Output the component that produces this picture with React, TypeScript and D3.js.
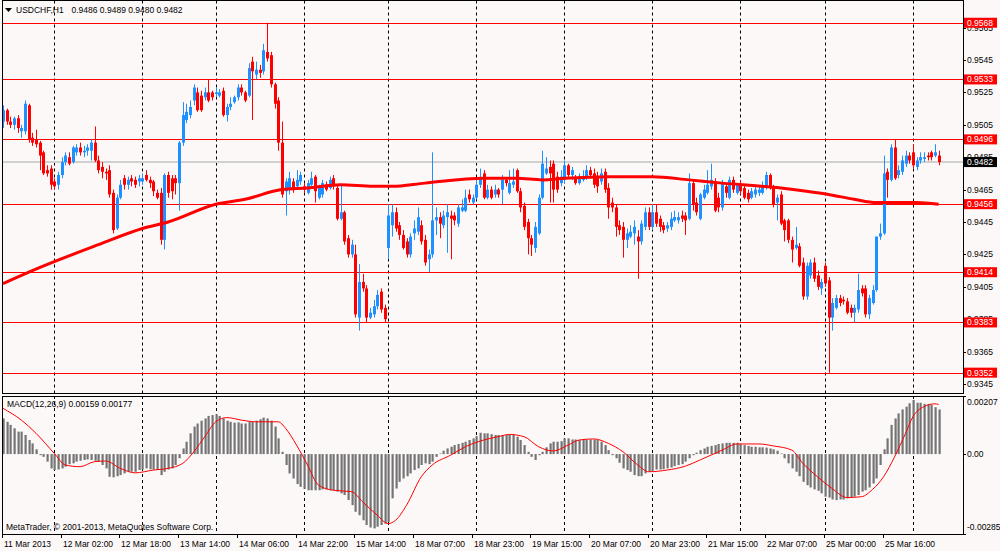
import React from 'react';
import * as d3 from 'd3';

// ---------- DATA (USDCHF, H1) ----------
const OPEN = [
0.9507,0.9514,0.9507,0.9505,0.9509,0.9501,0.9501,0.9517,0.9497,0.9496,0.9494,0.9488,0.9477,0.9478,0.9470,0.9468,
0.9474,0.9482,0.9485,0.9482,0.9488,0.9491,0.9488,0.9489,0.9489,0.9494,0.9483,0.9479,0.9476,0.9477,0.9463,0.9441,
0.9460,0.9472,0.9468,0.9472,0.9471,0.9470,0.9470,0.9474,0.9471,0.9470,0.9463,0.9463,0.9434,0.9474,0.9472,0.9472,
0.9469,0.9494,0.9508,0.9511,0.9520,0.9525,0.9523,0.9522,0.9525,0.9525,0.9524,0.9523,0.9526,0.9511,0.9516,0.9519,
0.9522,0.9528,0.9525,0.9523,0.9544,0.9536,0.9539,0.9538,0.9550,0.9548,0.9530,0.9520,0.9494,0.9464,0.9465,0.9470,
0.9467,0.9470,0.9467,0.9463,0.9468,0.9473,0.9460,0.9462,0.9468,0.9466,0.9472,0.9466,0.9447,0.9451,0.9435,0.9425,
0.9425,0.9386,0.9408,0.9404,0.9386,0.9388,0.9393,0.9402,0.9392,0.9429,0.9443,0.9451,0.9443,0.9437,0.9433,0.9425,
0.9438,0.9439,0.9443,0.9434,0.9422,0.9425,0.9446,0.9448,0.9443,0.9448,0.9449,0.9449,0.9444,0.9452,0.9452,0.9462,
0.9457,0.9460,0.9468,0.9475,0.9460,0.9465,0.9462,0.9465,0.9465,0.9471,0.9463,0.9468,0.9477,0.9464,0.9455,0.9445,
0.9435,0.9429,0.9438,0.9460,0.9475,0.9479,0.9481,0.9473,0.9469,0.9471,0.9480,0.9474,0.9472,0.9469,0.9471,0.9473,
0.9477,0.9475,0.9473,0.9470,0.9476,0.9466,0.9457,0.9454,0.9443,0.9442,0.9434,0.9436,0.9438,0.9436,0.9433,0.9442,
0.9451,0.9442,0.9451,0.9447,0.9443,0.9441,0.9442,0.9446,0.9446,0.9449,0.9449,0.9447,0.9469,0.9457,0.9447,0.9460,
0.9463,0.9467,0.9469,0.9460,0.9454,0.9467,0.9460,0.9471,0.9463,0.9468,0.9466,0.9463,0.9460,0.9462,0.9463,0.9463,
0.9466,0.9474,0.9466,0.9457,0.9462,0.9446,0.9446,0.9434,0.9429,0.9430,0.9420,0.9399,0.9412,0.9420,0.9412,0.9404,
0.9418,0.9409,0.9386,0.9392,0.9398,0.9397,0.9396,0.9392,0.9389,0.9391,0.9404,0.9404,0.9388,0.9395,0.9403,0.9436,
0.9438,0.9476,0.9471,0.9491,0.9474,0.9476,0.9481,0.9486,0.9488,0.9479,0.9483,0.9484,0.9486,0.9488,0.9486,0.9486,
];
const HIGH = [
0.9517,0.9515,0.9510,0.9510,0.9511,0.9505,0.9520,0.9518,0.9500,0.9502,0.9495,0.9489,0.9480,0.9480,0.9472,0.9476,
0.9485,0.9488,0.9488,0.9492,0.9493,0.9494,0.9492,0.9493,0.9496,0.9504,0.9486,0.9482,0.9478,0.9480,0.9465,0.9462,
0.9471,0.9474,0.9473,0.9474,0.9473,0.9474,0.9475,0.9477,0.9473,0.9471,0.9465,0.9466,0.9475,0.9476,0.9474,0.9474,
0.9495,0.9519,0.9518,0.9520,0.9530,0.9528,0.9526,0.9528,0.9533,0.9526,0.9528,0.9527,0.9528,0.9518,0.9522,0.9523,
0.9530,0.9530,0.9526,0.9543,0.9547,0.9544,0.9542,0.9555,0.9568,0.9550,0.9531,0.9522,0.9507,0.9472,0.9476,0.9472,
0.9477,0.9476,0.9469,0.9471,0.9476,0.9474,0.9468,0.9471,0.9470,0.9473,0.9474,0.9468,0.9468,0.9452,0.9437,0.9434,
0.9431,0.9419,0.9413,0.9406,0.9392,0.9397,0.9403,0.9404,0.9394,0.9456,0.9456,0.9454,0.9445,0.9440,0.9435,0.9438,
0.9446,0.9454,0.9446,0.9437,0.9428,0.9488,0.9454,0.9451,0.9452,0.9456,0.9452,0.9451,0.9456,0.9459,0.9465,0.9465,
0.9462,0.9471,0.9478,0.9477,0.9468,0.9467,0.9468,0.9466,0.9474,0.9472,0.9477,0.9478,0.9478,0.9466,0.9457,0.9447,
0.9437,0.9445,0.9462,0.9489,0.9485,0.9483,0.9483,0.9476,0.9477,0.9483,0.9481,0.9479,0.9474,0.9475,0.9477,0.9480,
0.9479,0.9478,0.9476,0.9478,0.9478,0.9469,0.9460,0.9456,0.9446,0.9445,0.9441,0.9443,0.9446,0.9440,0.9446,0.9454,
0.9454,0.9456,0.9456,0.9449,0.9445,0.9445,0.9451,0.9452,0.9451,0.9452,0.9451,0.9475,0.9471,0.9460,0.9463,0.9468,
0.9477,0.9481,0.9472,0.9463,0.9471,0.9469,0.9473,0.9473,0.9469,0.9471,0.9468,0.9465,0.9466,0.9468,0.9467,0.9470,
0.9476,0.9475,0.9468,0.9462,0.9464,0.9447,0.9447,0.9436,0.9442,0.9432,0.9423,0.9420,0.9422,0.9423,0.9415,0.9410,
0.9420,0.9411,0.9398,0.9400,0.9400,0.9399,0.9398,0.9394,0.9394,0.9413,0.9406,0.9406,0.9400,0.9406,0.9436,0.9444,
0.9486,0.9478,0.9493,0.9496,0.9480,0.9486,0.9489,0.9488,0.9493,0.9485,0.9488,0.9488,0.9488,0.9489,0.9493,0.9489,
];
const LOW = [
0.9503,0.9505,0.9503,0.9502,0.9500,0.9497,0.9499,0.9494,0.9492,0.9491,0.9477,0.9474,0.9473,0.9465,0.9465,0.9465,
0.9472,0.9480,0.9480,0.9481,0.9486,0.9486,0.9485,0.9486,0.9483,0.9482,0.9475,0.9472,0.9471,0.9460,0.9438,0.9440,
0.9459,0.9465,0.9465,0.9467,0.9466,0.9467,0.9468,0.9470,0.9466,0.9461,0.9459,0.9431,0.9428,0.9460,0.9459,0.9462,
0.9452,0.9492,0.9506,0.9509,0.9517,0.9513,0.9513,0.9520,0.9519,0.9520,0.9522,0.9522,0.9510,0.9507,0.9514,0.9518,
0.9520,0.9523,0.9519,0.9522,0.9508,0.9533,0.9534,0.9536,0.9544,0.9528,0.9515,0.9489,0.9460,0.9449,0.9462,0.9463,
0.9465,0.9468,0.9463,0.9462,0.9467,0.9457,0.9459,0.9460,0.9464,0.9465,0.9465,0.9446,0.9446,0.9431,0.9423,0.9423,
0.9386,0.9378,0.9402,0.9383,0.9385,0.9386,0.9391,0.9389,0.9383,0.9422,0.9436,0.9439,0.9434,0.9428,0.9423,0.9423,
0.9434,0.9437,0.9431,0.9418,0.9414,0.9423,0.9437,0.9435,0.9441,0.9426,0.9422,0.9443,0.9442,0.9451,0.9451,0.9457,
0.9456,0.9459,0.9466,0.9459,0.9459,0.9459,0.9460,0.9460,0.9456,0.9467,0.9462,0.9466,0.9463,0.9451,0.9440,0.9425,
0.9424,0.9426,0.9437,0.9459,0.9474,0.9457,0.9457,0.9463,0.9467,0.9469,0.9472,0.9471,0.9468,0.9468,0.9470,0.9471,
0.9472,0.9466,0.9463,0.9468,0.9463,0.9447,0.9451,0.9436,0.9437,0.9423,0.9429,0.9435,0.9431,0.9410,0.9431,0.9440,
0.9440,0.9440,0.9442,0.9439,0.9438,0.9439,0.9440,0.9445,0.9444,0.9445,0.9437,0.9446,0.9452,0.9449,0.9446,0.9459,
0.9462,0.9465,0.9451,0.9451,0.9452,0.9460,0.9459,0.9463,0.9462,0.9462,0.9459,0.9457,0.9459,0.9460,0.9461,0.9462,
0.9465,0.9465,0.9454,0.9446,0.9443,0.9433,0.9432,0.9420,0.9428,0.9417,0.9397,0.9397,0.9410,0.9408,0.9403,0.9400,
0.9405,0.9352,0.9378,0.9391,0.9393,0.9394,0.9388,0.9386,0.9383,0.9389,0.9399,0.9386,0.9385,0.9394,0.9402,0.9434,
0.9437,0.9460,0.9470,0.9471,0.9472,0.9474,0.9479,0.9481,0.9478,0.9477,0.9481,0.9482,0.9483,0.9483,0.9485,0.9480,
];
const CLOSE = [
0.9514,0.9507,0.9505,0.9509,0.9503,0.9503,0.9518,0.9496,0.9494,0.9493,0.9486,0.9475,0.9475,0.9468,0.9467,0.9474,
0.9482,0.9486,0.9481,0.9491,0.9491,0.9488,0.9489,0.9491,0.9494,0.9483,0.9477,0.9476,0.9475,0.9462,0.9440,0.9460,
0.9468,0.9468,0.9471,0.9470,0.9468,0.9472,0.9472,0.9471,0.9469,0.9464,0.9460,0.9434,0.9474,0.9463,0.9464,0.9469,
0.9494,0.9511,0.9513,0.9516,0.9528,0.9514,0.9514,0.9525,0.9520,0.9522,0.9525,0.9525,0.9511,0.9516,0.9518,0.9522,
0.9528,0.9525,0.9520,0.9540,0.9538,0.9539,0.9537,0.9551,0.9546,0.9530,0.9518,0.9494,0.9462,0.9470,0.9472,0.9465,
0.9471,0.9474,0.9465,0.9469,0.9472,0.9464,0.9466,0.9469,0.9465,0.9471,0.9467,0.9447,0.9451,0.9433,0.9425,0.9431,
0.9388,0.9408,0.9404,0.9386,0.9389,0.9393,0.9400,0.9391,0.9385,0.9449,0.9451,0.9441,0.9437,0.9429,0.9425,0.9436,
0.9441,0.9448,0.9433,0.9420,0.9425,0.9446,0.9448,0.9444,0.9449,0.9451,0.9447,0.9446,0.9454,0.9454,0.9460,0.9459,
0.9460,0.9468,0.9472,0.9460,0.9465,0.9460,0.9465,0.9462,0.9471,0.9469,0.9469,0.9470,0.9464,0.9454,0.9442,0.9435,
0.9431,0.9442,0.9460,0.9481,0.9478,0.9475,0.9465,0.9465,0.9473,0.9480,0.9474,0.9477,0.9469,0.9473,0.9473,0.9477,
0.9474,0.9468,0.9467,0.9475,0.9465,0.9454,0.9454,0.9442,0.9440,0.9434,0.9438,0.9439,0.9442,0.9433,0.9444,0.9451,
0.9442,0.9451,0.9444,0.9442,0.9440,0.9443,0.9447,0.9448,0.9448,0.9447,0.9446,0.9469,0.9456,0.9451,0.9462,0.9465,
0.9468,0.9471,0.9452,0.9454,0.9469,0.9463,0.9471,0.9465,0.9469,0.9464,0.9460,0.9459,0.9464,0.9465,0.9465,0.9467,
0.9474,0.9466,0.9456,0.9460,0.9444,0.9440,0.9434,0.9428,0.9431,0.9418,0.9399,0.9418,0.9420,0.9410,0.9405,0.9408,
0.9407,0.9386,0.9395,0.9398,0.9395,0.9396,0.9389,0.9389,0.9392,0.9403,0.9401,0.9388,0.9398,0.9403,0.9436,0.9438,
0.9475,0.9471,0.9491,0.9472,0.9477,0.9483,0.9486,0.9483,0.9480,0.9483,0.9485,0.9485,0.9485,0.9485,0.9488,0.9482,
];

// moving average (red thick line), read at sample bars
const MA_IDX = [0, 8, 26, 38, 45, 58, 66, 76, 83, 92, 101, 106, 115, 131, 140, 147, 153, 165, 177, 187, 196, 212, 219, 225, 232, 238, 249, 255];
const MA_VAL = [0.9407, 0.9415, 0.9431, 0.9441, 0.9445, 0.9456, 0.9459, 0.9465, 0.9466, 0.9468, 0.9467, 0.9467, 0.9469, 0.9472, 0.9472, 0.9471, 0.9472, 0.9473, 0.9473, 0.9471, 0.9469, 0.9466, 0.9464, 0.9462, 0.9459, 0.9457, 0.9457, 0.9456];

// MACD(12,26,9) histogram (main line), one per bar
const MACD_MAIN = [
0.00127,0.00115,0.00104,0.00092,0.00080,0.00080,0.00068,0.00050,0.00038,0.00017,-0.00004,-0.00010,-0.00027,-0.00051,-0.00057,-0.00055,
-0.00051,-0.00045,-0.00036,-0.00033,-0.00027,-0.00024,-0.00021,-0.00019,-0.00021,-0.00024,-0.00027,-0.00039,-0.00051,-0.00081,-0.00083,-0.00079,
-0.00075,-0.00069,-0.00063,-0.00063,-0.00063,-0.00057,-0.00055,-0.00051,-0.00054,-0.00055,-0.00057,-0.00075,-0.00063,-0.00055,-0.00051,-0.00039,
-0.00015,0.00020,0.00044,0.00074,0.00098,0.00109,0.00119,0.00127,0.00136,0.00139,0.00142,0.00136,0.00127,0.00119,0.00115,0.00112,
0.00113,0.00109,0.00109,0.00115,0.00115,0.00119,0.00124,0.00130,0.00127,0.00119,0.00098,0.00056,0.00008,-0.00039,-0.00069,-0.00087,
-0.00107,-0.00117,-0.00124,-0.00129,-0.00129,-0.00129,-0.00129,-0.00126,-0.00126,-0.00129,-0.00129,-0.00134,-0.00140,-0.00146,-0.00164,-0.00182,
-0.00206,-0.00218,-0.00236,-0.00253,-0.00262,-0.00265,-0.00259,-0.00253,-0.00248,-0.00242,-0.00158,-0.00123,-0.00099,-0.00087,-0.00079,-0.00069,
-0.00057,-0.00051,-0.00039,-0.00033,-0.00036,-0.00027,-0.00010,0.00002,0.00012,0.00020,0.00026,0.00032,0.00036,0.00040,0.00044,0.00050,
0.00056,0.00064,0.00076,0.00074,0.00074,0.00071,0.00068,0.00068,0.00068,0.00068,0.00068,0.00068,0.00062,0.00050,0.00032,0.00008,
-0.00010,-0.00021,-0.00004,0.00008,0.00024,0.00038,0.00044,0.00044,0.00046,0.00056,0.00056,0.00052,0.00052,0.00050,0.00052,0.00052,
0.00052,0.00052,0.00050,0.00044,0.00032,0.00014,-0.00004,-0.00015,-0.00031,-0.00051,-0.00057,-0.00063,-0.00075,-0.00079,-0.00079,-0.00069,
-0.00063,-0.00060,-0.00055,-0.00055,-0.00054,-0.00051,-0.00048,-0.00043,-0.00039,-0.00036,-0.00027,-0.00015,-0.00004,0.00005,0.00014,0.00020,
0.00026,0.00029,0.00032,0.00036,0.00038,0.00040,0.00040,0.00040,0.00040,0.00036,0.00032,0.00029,0.00026,0.00026,0.00024,0.00024,
0.00023,0.00020,0.00017,0.00012,0.00002,-0.00015,-0.00033,-0.00051,-0.00063,-0.00079,-0.00099,-0.00111,-0.00119,-0.00126,-0.00131,-0.00140,
-0.00152,-0.00155,-0.00162,-0.00164,-0.00162,-0.00162,-0.00158,-0.00155,-0.00152,-0.00146,-0.00134,-0.00129,-0.00119,-0.00105,-0.00087,-0.00039,
0.00017,0.00056,0.00104,0.00127,0.00145,0.00159,0.00169,0.00181,0.00193,0.00183,0.00183,0.00179,0.00179,0.00175,0.00167,0.00159,
];

// MACD signal line, read at sample bars
const SIGNAL_IDX = [0, 5, 9, 14, 17, 21, 25, 28, 32, 36, 41, 45, 49, 52, 55, 58, 61, 65, 69, 75, 77, 80, 83, 86, 90, 95, 98, 102, 105, 107, 110, 114, 117, 122, 126, 131, 135, 138, 142, 146, 150, 154, 157, 161, 165, 169, 173, 176, 181, 186, 190, 196, 200, 206, 210, 215, 218, 222, 226, 230, 234, 237, 240, 243, 246, 248, 251, 254, 255];
const SIGNAL_VAL = [0.00163, 0.00121, 0.00074, 0.00002, -0.00039, -0.00045, -0.00027, -0.00025, -0.00051, -0.00067, -0.00057, -0.00051, -0.00033, 0.00008, 0.00062, 0.00115, 0.00130, 0.00121, 0.00115, 0.00115, 0.00092, 0.00032, -0.00039, -0.00111, -0.00129, -0.00134, -0.00170, -0.00218, -0.00248, -0.00236, -0.00182, -0.00081, -0.00039, -0.00004, 0.00026, 0.00050, 0.00062, 0.00070, 0.00062, 0.00026, 0.00011, 0.00032, 0.00050, 0.00054, 0.00038, 0.00008, -0.00039, -0.00063, -0.00057, -0.00043, -0.00021, 0.00014, 0.00036, 0.00036, 0.00029, 0.00014, -0.00033, -0.00081, -0.00123, -0.00155, -0.00152, -0.00126, -0.00081, -0.00010, 0.00074, 0.00133, 0.00169, 0.00179, 0.00177];

const PRICE_TICKS = [0.9565, 0.9545, 0.9525, 0.9505, 0.9485, 0.9465, 0.9445, 0.9425, 0.9405, 0.9385, 0.9365, 0.9345];
const LEVELS = [0.9568, 0.9533, 0.9496, 0.9456, 0.9414, 0.9383, 0.9352];
const BID = 0.9482;
const MACD_TICKS = [0.00207, 0, -0.00285];
const MACD_TICK_LABELS = ['0.00207', '0.00', '-0.00285'];
const TIME_IDX = [0, 16, 32, 48, 64, 80, 96, 112, 128, 144, 160, 176, 192, 208, 224, 240];
const TIME_LABELS = ['11 Mar 2013', '12 Mar 02:00', '12 Mar 18:00', '13 Mar 14:00', '14 Mar 06:00', '14 Mar 22:00', '15 Mar 14:00', '18 Mar 07:00', '18 Mar 23:00', '19 Mar 15:00', '20 Mar 07:00', '20 Mar 23:00', '21 Mar 15:00', '22 Mar 07:00', '25 Mar 00:00', '25 Mar 16:00'];
const DAY_IDX = [14, 38, 58, 82, 105, 129, 153, 177, 201, 224, 248];

const SYMBOL = 'USDCHF,H1';
const MACD_TITLE = 'MACD(12,26,9) 0.00159 0.00177';
const COPYRIGHT = 'MetaTrader, \u00A9 2001-2013, MetaQuotes Software Corp.';

export default function App() {
  const W = 1000, H = 551;
  const L = 2, R = 963;
  const mainTop = 0.5, mainBot = 393.5, macdTop = 396, macdBot = 534;
  const BG = '#FCF8F8';
  const BULL = '#1E90FF', BEAR = '#FF0000';
  const font = "'Liberation Sans', Arial, sans-serif";
  const fs = 8.5;

  const n = CLOSE.length;
  const x = d3.scaleLinear().domain([0, n - 1]).range([3, 3 + (n - 1) * 3.669]);
  const y = d3.scaleLinear().domain([0.9545, 0.9345]).range([60, 384]);
  const ym = d3.scaleLinear().domain([0.00207, -0.00285]).range([macdTop, macdBot]);

  const maLine = d3.line<number>().x((d, i) => x(MA_IDX[i])).y((d) => y(d)).curve(d3.curveMonotoneX);
  const sigLine = d3.line<number>().x((d, i) => x(SIGNAL_IDX[i])).y((d) => ym(d)).curve(d3.curveMonotoneX);

  const fmt = d3.format('.4f');
  const lastO = OPEN[n - 1], lastH = HIGH[n - 1], lastL = LOW[n - 1], lastC = CLOSE[n - 1];
  const header = `${fmt(lastO)} ${fmt(lastH)} ${fmt(lastL)} ${fmt(lastC)}`;

  const macdLabelY = (v: number) => Math.min(Math.max(ym(v), macdTop + 6), macdBot - 6.5);

  return (
    <svg width={W} height={H} style={{ position: 'absolute', left: 0, top: 0, display: 'block' }} fontFamily={font}>
      <defs>
        <clipPath id="mainClip"><rect x={L} y={mainTop} width={R - L} height={mainBot - mainTop} /></clipPath>
        <clipPath id="macdClip"><rect x={L} y={macdTop} width={R - L} height={macdBot - macdTop} /></clipPath>
      </defs>
      <rect x={0} y={0} width={W} height={H} fill={BG} />

      {/* vertical day grid */}
      {DAY_IDX.map((d) => {
        const gx = Math.round(x(d)) + 0.5;
        return (
          <g key={'g' + d}>
            <line x1={gx} x2={gx} y1={mainTop} y2={mainBot} stroke="#000" strokeWidth={1} strokeDasharray="3,3" />
            <line x1={gx} x2={gx} y1={macdTop} y2={macdBot} stroke="#000" strokeWidth={1} strokeDasharray="3,3" />
          </g>
        );
      })}

      {/* bid line */}
      <line x1={L} x2={R} y1={y(BID)} y2={y(BID)} stroke="#D0D0D0" strokeWidth={2} />

      {/* horizontal levels */}
      {LEVELS.map((v) => (
        <line key={'l' + v} x1={L} x2={R} y1={Math.round(y(v)) + 0.5} y2={Math.round(y(v)) + 0.5} stroke="#FF0000" strokeWidth={1.2} />
      ))}

      {/* candles */}
      <g clipPath="url(#mainClip)">
        {CLOSE.map((c, i) => {
          const o = OPEN[i];
          const col = c >= o ? BULL : BEAR;
          const cx = Math.round(x(i));
          const yTop = y(Math.max(o, c));
          const yB = y(Math.min(o, c));
          return (
            <g key={'c' + i}>
              <line x1={cx + 0.5} x2={cx + 0.5} y1={y(HIGH[i])} y2={y(LOW[i])} stroke={col} strokeWidth={1} />
              <rect x={cx - 1} y={yTop} width={3} height={Math.max(1, yB - yTop)} fill={col} />
            </g>
          );
        })}
        <path d={maLine(MA_VAL) || ''} fill="none" stroke="#FF0000" strokeWidth={3} />
      </g>

      {/* MACD histogram */}
      <g clipPath="url(#macdClip)">
        {MACD_MAIN.map((v, i) => {
          const cx = Math.round(x(i));
          const y0 = ym(0), y1 = ym(v);
          return <rect key={'m' + i} x={cx - 0.5} y={Math.min(y0, y1)} width={2.2} height={Math.max(0.5, Math.abs(y1 - y0))} fill="#747474" />;
        })}
        <path d={sigLine(SIGNAL_VAL) || ''} fill="none" stroke="#FF0000" strokeWidth={1} />
      </g>

      {/* panel frames */}
      <rect x={L + 0.5} y={mainTop} width={R - L} height={mainBot - mainTop} fill="none" stroke="#000" strokeWidth={1} />
      <rect x={L + 0.5} y={macdTop + 0.5} width={R - L} height={macdBot - macdTop} fill="none" stroke="#000" strokeWidth={1} />

      {/* price axis */}
      {PRICE_TICKS.map((v) => (
        <g key={'p' + v}>
          <line x1={R} x2={R + 3} y1={Math.round(y(v)) + 0.5} y2={Math.round(y(v)) + 0.5} stroke="#000" />
          <text x={967} y={y(v)} dy="0.35em" fontSize={fs} fill="#000">{fmt(v)}</text>
        </g>
      ))}
      {LEVELS.map((v) => (
        <g key={'lb' + v}>
          <rect x={964} y={y(v) - 5} width={33} height={10} fill="#FF0000" />
          <text x={967} y={y(v)} dy="0.35em" fontSize={fs} fill="#FFF">{fmt(v)}</text>
        </g>
      ))}
      <rect x={964} y={y(BID) - 5} width={33} height={10} fill="#000" />
      <text x={967} y={y(BID)} dy="0.35em" fontSize={fs} fill="#FFF">{fmt(BID)}</text>

      {/* MACD axis */}
      {MACD_TICKS.map((v, i) => (
        <g key={'mt' + i}>
          <line x1={R} x2={R + 3} y1={Math.round(ym(v)) + 0.5} y2={Math.round(ym(v)) + 0.5} stroke="#000" />
          <text x={967} y={macdLabelY(v)} dy="0.35em" fontSize={fs} fill="#000">{MACD_TICK_LABELS[i]}</text>
        </g>
      ))}

      {/* time axis */}
      {TIME_IDX.map((d, i) => {
        const tx = Math.round(x(d)) - 0.5;
        return (
          <g key={'t' + d}>
            <line x1={tx} x2={tx} y1={macdBot} y2={macdBot + 4} stroke="#000" />
            <text x={tx + 1.5} y={547} fontSize={fs} fill="#000">{TIME_LABELS[i]}</text>
          </g>
        );
      })}

      {/* titles */}
      <path d="M5,8 L12,8 L8.5,12 Z" fill="#000" />
      <text x={16} y={13} fontSize={fs} fill="#000">{SYMBOL}</text>
      <text x={71.5} y={13} fontSize={fs} fill="#000">{header}</text>
      <text x={7} y={407} fontSize={fs} fill="#000">{MACD_TITLE}</text>
      <text x={6} y={530} fontSize={fs} fill="#000">{COPYRIGHT}</text>
    </svg>
  );
}
